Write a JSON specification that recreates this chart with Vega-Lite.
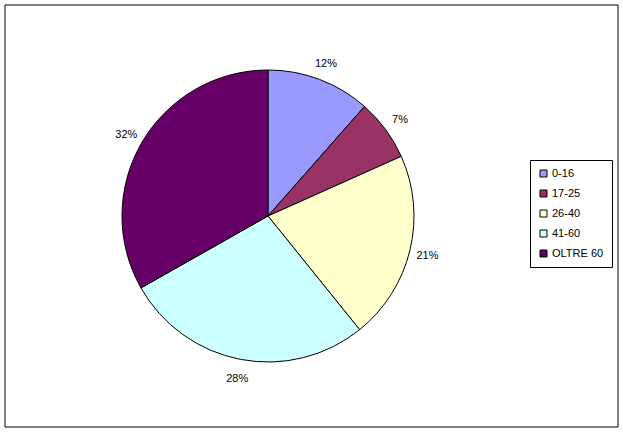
{
  "$schema": "https://vega.github.io/schema/vega-lite/v6.json",
  "autosize": {"type": "none"},
  "padding": {"left": 5, "top": 5, "right": 5, "bottom": 6},
  "width": 613,
  "height": 422,
  "background": "white",
  "view": {"stroke": null},
  "config": {
    "view": {"stroke": null},
    "font": "Liberation Sans"
  },
  "datasets": {
    "ages": [
      {"cat": "0-16", "value": 11.5, "label": "12%"},
      {"cat": "17-25", "value": 6.8, "label": "7%"},
      {"cat": "26-40", "value": 20.9, "label": "21%"},
      {"cat": "41-60", "value": 27.6, "label": "28%"},
      {"cat": "OLTRE 60", "value": 33.2, "label": "32%"}
    ],
    "frame": [{"name": "border"}]
  },
  "layer": [
    {
      "data": {"name": "frame"},
      "mark": {"type": "rect", "fill": null, "fillOpacity": 0, "stroke": "black", "strokeWidth": 1},
      "encoding": {}
    },
    {
      "data": {"name": "ages"},
      "mark": {"type": "arc", "radius": 146, "stroke": "black", "strokeWidth": 1, "xOffset": -43.5},
      "encoding": {
        "theta": {"field": "value", "type": "quantitative", "stack": true},
        "order": {"field": "cat", "type": "ordinal", "sort": "ascending"},
        "color": {
          "field": "cat",
          "type": "nominal",
          "scale": {
            "domain": ["0-16", "17-25", "26-40", "41-60", "OLTRE 60"],
            "range": ["#9999FF", "#993366", "#FFFFCC", "#CCFFFF", "#660066"]
          },
          "legend": {
            "title": null,
            "orient": "none",
            "legendX": 525,
            "legendY": 155,
            "symbolType": "square",
            "symbolSize": 49,
            "symbolStrokeColor": "black",
            "symbolStrokeWidth": 1,
            "symbolOpacity": 1,
            "labelFont": "Liberation Sans",
            "labelFontSize": 11,
            "labelColor": "black",
            "labelOffset": 3,
            "rowPadding": 8,
            "padding": 8,
            "strokeColor": "black",
            "fillColor": "white"
          }
        }
      }
    },
    {
      "data": {"name": "ages"},
      "mark": {"type": "text", "radius": 164, "font": "Liberation Sans", "fontSize": 11, "color": "black", "xOffset": -43.5, "yOffset": 1.5},
      "encoding": {
        "theta": {"field": "value", "type": "quantitative", "stack": true},
        "order": {"field": "cat", "type": "ordinal", "sort": "ascending"},
        "text": {"field": "label", "type": "nominal"}
      }
    }
  ]
}
